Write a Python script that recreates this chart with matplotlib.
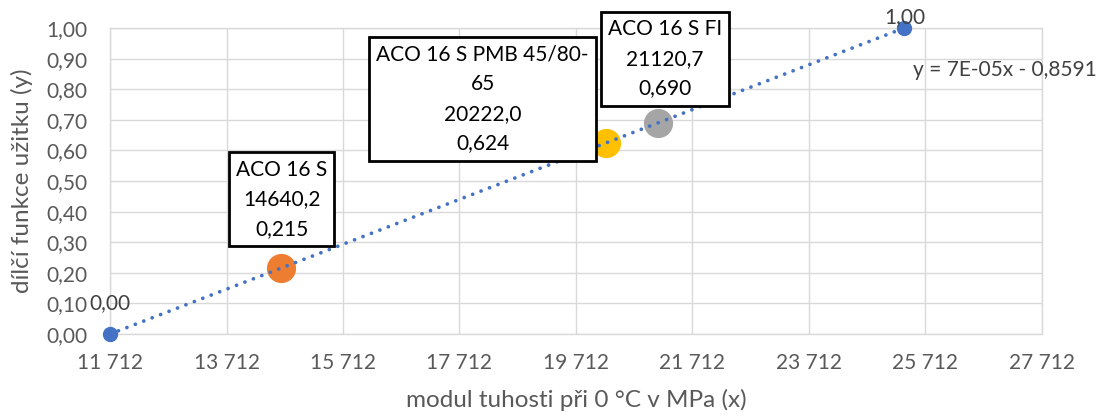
import numpy as np
import matplotlib.pyplot as plt
from matplotlib.ticker import FuncFormatter

# data
names = ["ACO 16 S", "ACO 16 S PMB 45/80-\n65", "ACO 16 S FI"]
modul = [14640.2, 20222.0, 21120.7]
uzitek = [0.215, 0.624, 0.690]
colors = ["#ED7D31", "#FFC000", "#A5A5A5"]

end_x = [11712.0, 25345.0]
end_y = [0.0, 1.0]

x_ticks = [11712, 13712, 15712, 17712, 19712, 21712, 23712, 25712, 27712]
y_ticks = [0.0, 0.1, 0.2, 0.3, 0.4, 0.5, 0.6, 0.7, 0.8, 0.9, 1.0]

# label box offsets (pixels from the point)
box_off = [(1, 69), (-123, 44), (7, 64)]
end_off = [(0, 31), (1, 11)]

plt.rcParams['font.family'] = ['Lato', 'DejaVu Sans']

fig = plt.figure(figsize=(10.99, 4.16), dpi=100)
ax = fig.add_axes([0.1001, 0.197, 0.848, 0.7356])

ax.set_xlim(x_ticks[0], x_ticks[-1])
ax.set_ylim(y_ticks[0], y_ticks[-1])
ax.set_xticks(x_ticks)
ax.set_yticks(y_ticks)
ax.xaxis.set_major_formatter(FuncFormatter(lambda v, p: f"{v:,.0f}".replace(',', ' ')))
ax.yaxis.set_major_formatter(FuncFormatter(lambda v, p: f"{v:.2f}".replace('.', ',')))
ax.tick_params(axis='both', length=0, labelsize=15, labelcolor='#595959')
ax.tick_params(axis='y', pad=16)
ax.tick_params(axis='x', pad=14)
ax.grid(True, color='#D9D9D9', lw=1)
ax.set_axisbelow(True)
for s in ax.spines.values():
    s.set_color('#D9D9D9')
    s.set_linewidth(1)

ax.set_xlabel("modul tuhosti při 0 °C v MPa (x)", fontsize=17.5, color='#595959', labelpad=11)
ax.set_ylabel("dílčí funkce užitku (y)", fontsize=17.5, color='#595959', labelpad=10)

# end points + trendline
ax.plot(end_x, end_y, 'o', color='#4472C4', ms=10, clip_on=False, zorder=3)
k, q = np.polyfit(end_x, end_y, 1)
tx = np.array(end_x)
ax.plot(tx, k * tx + q, color='#4472C4', lw=2.7, linestyle=(0, (0.01, 2.4)),
        dash_capstyle='round', clip_on=False, zorder=4)

for x, y, off in zip(end_x, end_y, end_off):
    ax.annotate(f"{y:.2f}".replace('.', ','), (x, y), xytext=off,
                textcoords='offset pixels', ha='center', va='center',
                fontsize=15, color='#404040', zorder=5)

ax.text(0.8616, 0.863, "y = 7E-05x - 0,8591", transform=ax.transAxes,
        ha='left', va='center', fontsize=15, color='#404040', zorder=5)

# the three mixtures
for name, x, y, c, off in zip(names, modul, uzitek, colors, box_off):
    ax.plot(x, y, 'o', color=c, ms=20, zorder=3)
    txt = f"{name}\n{x:.1f}\n{y:.3f}".replace('.', ',')
    ax.annotate(txt, (x, y), xytext=off, textcoords='offset pixels',
                ha='center', va='center', fontsize=15, color='black',
                linespacing=1.6, zorder=6,
                bbox=dict(boxstyle='square,pad=0.35', fc='white', ec='black', lw=2))

fig.savefig('out.png', dpi=100)
